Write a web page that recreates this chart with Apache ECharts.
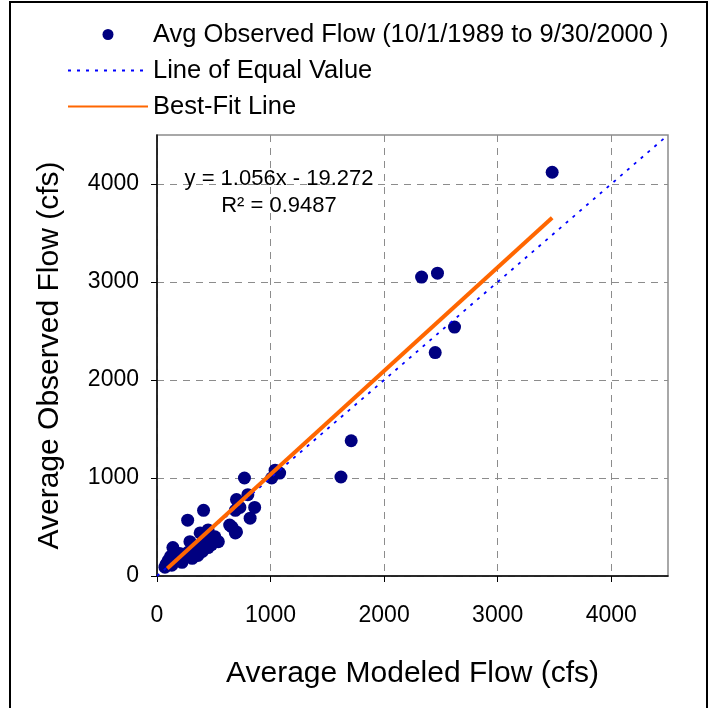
<!DOCTYPE html>
<html>
<head>
<meta charset="utf-8">
<script src="https://cdn.jsdelivr.net/npm/echarts@6/dist/echarts.min.js"></script>
<style>
    html, body {margin: 0; padding: 0; background: #fff;}
    #container {width: 709px; height: 708px;}
</style>
</head>
<body>
<div id="container"></div>
<script>
// average modeled flow (x) and average observed flow (y), cfs
let modeledFlow = [3480, 2330, 2470, 2620, 2450, 1710, 1620, 1040, 1080, 1010, 770, 800, 700, 860, 690, 820, 640, 700, 730, 410,
    270, 660, 690, 540, 510, 450, 380, 290, 400, 140, 330, 400, 250, 190, 100, 70, 130, 310, 450, 220,
    160, 90, 360, 270, 480, 420, 350, 120, 200, 80]
let observedFlow = [4120, 3050, 3090, 2540, 2280, 1380, 1010, 1080, 1050, 1000, 1000, 830, 780, 700, 670, 590, 520, 450, 700, 670,
    570, 500, 440, 350, 400, 470, 440, 350, 340, 290, 270, 250, 190, 210, 160, 90, 110, 180, 290, 140,
    180, 130, 210, 240, 320, 370, 300, 200, 230, 120]

// line of equal value and best-fit line end points
let equalLine = [[0, 0], [4500, 4500]]
let fitLine = [[90, 76], [3480, 3656]]

let xTicks = [0, 1000, 2000, 3000, 4000]
let yTicks = [0, 1000, 2000, 3000, 4000]

let seriesNames = ['Avg Observed Flow (10/1/1989 to 9/30/2000 )', 'Line of Equal Value', 'Best-Fit Line']
let equationText = ['y = 1.056x - 19.272', 'R\u00B2 = 0.9487']

const font = "'Liberation Sans', Arial, sans-serif"

let points = []
for (let i = 0; i < modeledFlow.length; i++) {
    points.push([modeledFlow[i], observedFlow[i]])
}

// legend entries, the two lines get no dot in the middle of their icon
let legendData = [
    {name: seriesNames[0]},
    {name: seriesNames[1], itemStyle: {color: 'rgba(0,0,0,0)', borderWidth: 0}},
    {name: seriesNames[2], itemStyle: {color: 'rgba(0,0,0,0)', borderWidth: 0}}
]

function plainNumber(v) {
    return String(v)
}

let option = {
    animation: false,
    backgroundColor: '#fff',
    textStyle: {fontFamily: font},
    grid: {
        left: 157, right: 41, top: 135, bottom: 132,
        show: true,
        borderColor: '#8c8c8c',
        borderWidth: 1.5
    },
    legend: {
        orient: 'vertical',
        left: 62,
        top: 15,
        itemWidth: 80,
        itemHeight: 11,
        itemGap: 7,
        selectedMode: false,
        textStyle: {fontSize: 25.5, lineHeight: 29, color: '#000', fontFamily: font},
        data: legendData
    },
    xAxis: {
        type: 'value',
        min: 0, max: 4500, interval: 1000,
        name: 'Average Modeled Flow (cfs)',
        nameLocation: 'middle',
        nameGap: 83,
        nameTextStyle: {fontSize: 30, color: '#000', fontFamily: font},
        axisLine: {lineStyle: {color: '#000', width: 1.5}},
        axisTick: {length: 6, lineStyle: {color: '#000'}, customValues: xTicks},
        axisLabel: {fontSize: 23, color: '#000', margin: 28, customValues: xTicks, formatter: plainNumber},
        splitLine: {show: true, lineStyle: {color: '#8c8c8c', type: [7, 6], width: 1}}
    },
    yAxis: {
        type: 'value',
        min: 0, max: 4500, interval: 1000,
        name: 'Average Observed Flow (cfs)',
        nameLocation: 'middle',
        nameGap: 92,
        nameTextStyle: {fontSize: 30, color: '#000', fontFamily: font},
        axisLine: {lineStyle: {color: '#000', width: 1.5}},
        axisTick: {length: 6, lineStyle: {color: '#000'}, customValues: yTicks},
        axisLabel: {fontSize: 23, color: '#000', margin: 18, customValues: yTicks, formatter: plainNumber},
        splitLine: {show: true, lineStyle: {color: '#8c8c8c', type: [7, 6], width: 1}}
    },
    graphic: [
        {
            // outer frame round the picture
            type: 'rect',
            shape: {x: 10, y: 2, width: 697, height: 720},
            style: {fill: 'none', stroke: '#000', lineWidth: 2},
            silent: true
        },
        {
            type: 'text',
            x: 279, y: 165,
            style: {
                text: equationText.join('\n'),
                fontSize: 22, lineHeight: 27,
                fontFamily: font,
                fill: '#000',
                align: 'center'
            },
            z: 10
        }
    ],
    series: [
        {
            name: seriesNames[0],
            type: 'scatter',
            symbol: 'circle',
            symbolSize: 13,
            itemStyle: {color: '#000080', opacity: 1},
            data: points,
            z: 2
        },
        {
            name: seriesNames[1],
            type: 'line',
            symbol: 'none',
            lineStyle: {color: '#0000ff', width: 1.8, type: [3, 6]},
            itemStyle: {color: '#0000ff'},
            data: equalLine,
            z: 3
        },
        {
            name: seriesNames[2],
            type: 'line',
            symbol: 'none',
            lineStyle: {color: '#ff6600', width: 4},
            itemStyle: {color: '#ff6600'},
            data: fitLine,
            z: 4
        }
    ]
}

var myChart = echarts.init(document.getElementById('container'))
myChart.setOption(option)
</script>
</body>
</html>
